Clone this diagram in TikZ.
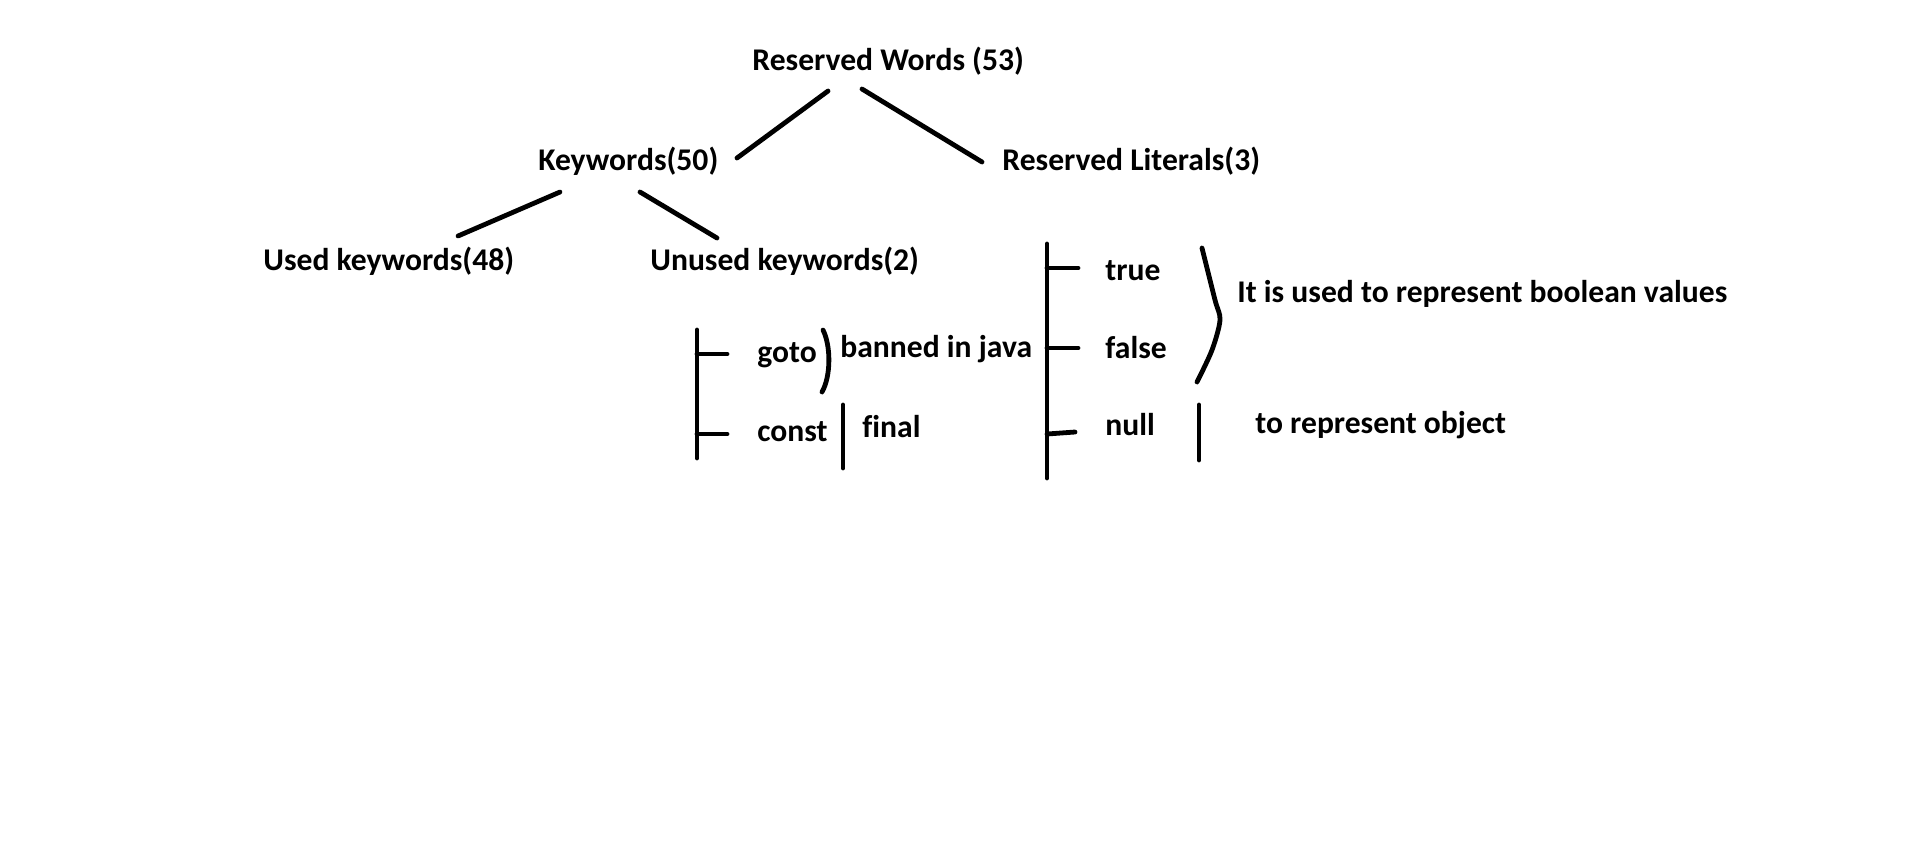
\documentclass[tikz,border=0pt]{standalone}
\usepackage{fontspec}
\setmainfont[Ligatures=CommonOff]{Carlito}

\begin{document}
\begin{tikzpicture}[x=0.5pt,y=-0.5pt,
	word/.style = {anchor=base west,inner sep=0pt,font=\fontsize{15.8pt}{19pt}\selectfont\bfseries},
	stroke/.style = {line width=2.4pt,line cap=round}]
	\useasboundingbox (0,0) rectangle (1914,848);

	\node[word] (words) at (752,70) {Reserved Words (53)};
	\node[word] (kw) at (538,170) {Keywords(50)};
	\node[word] (lit) at (1002,170) {Reserved Literals(3)};
	\node[word] (used) at (263,270) {Used keywords(48)};
	\node[word] (unused) at (650,270) {Unused keywords(2)};
	\node[word] (goto) at (757,362) {goto};
	\node[word] (banned) at (840,357) {banned in java};
	\node[word] (const) at (757,441) {const};
	\node[word] (final) at (862,437) {final};
	\node[word] (true) at (1105,280) {true};
	\node[word] (false) at (1105,358) {false};
	\node[word] (null) at (1105,435) {null};
	\node[word] (bool) at (1237,302) {It is used to represent boolean values};
	\node[word] (obj) at (1255,433) {to represent object};

	\coordinate (w1) at (828,91);
	\coordinate (w2) at (862,89);
	\coordinate (k1) at (737,158);
	\coordinate (l1) at (982,162);
	\coordinate (k2) at (560,192);
	\coordinate (k3) at (640,192);
	\coordinate (u1) at (458,236);
	\coordinate (u2) at (717,238);

	\draw[stroke] (w1) -- (k1);
	\draw[stroke] (w2) -- (l1);
	\draw[stroke] (k2) -- (u1);
	\draw[stroke] (k3) -- (u2);

	% unused keywords
	\draw[stroke] (697,330) -- (697,458);
	\draw[stroke] (697,354) -- (727,354);
	\draw[stroke] (697,434) -- (727,434);
	\draw[stroke] (823,330) .. controls (831,346) and (831,376) .. (822,392);
	\draw[stroke] (843,405) -- (843,468);

	% reserved literals
	\draw[stroke] (1047,244) -- (1047,478);
	\draw[stroke] (1047,268) -- (1078,268);
	\draw[stroke] (1047,348) -- (1078,348);
	\draw[stroke] (1047,434) -- (1075,432);
	\draw[stroke] plot[smooth] coordinates {(1202,248) (1215,300) (1220,320) (1212,350) (1197,382)};
	\draw[stroke] (1199,405) -- (1199,460);
\end{tikzpicture}
\end{document}
